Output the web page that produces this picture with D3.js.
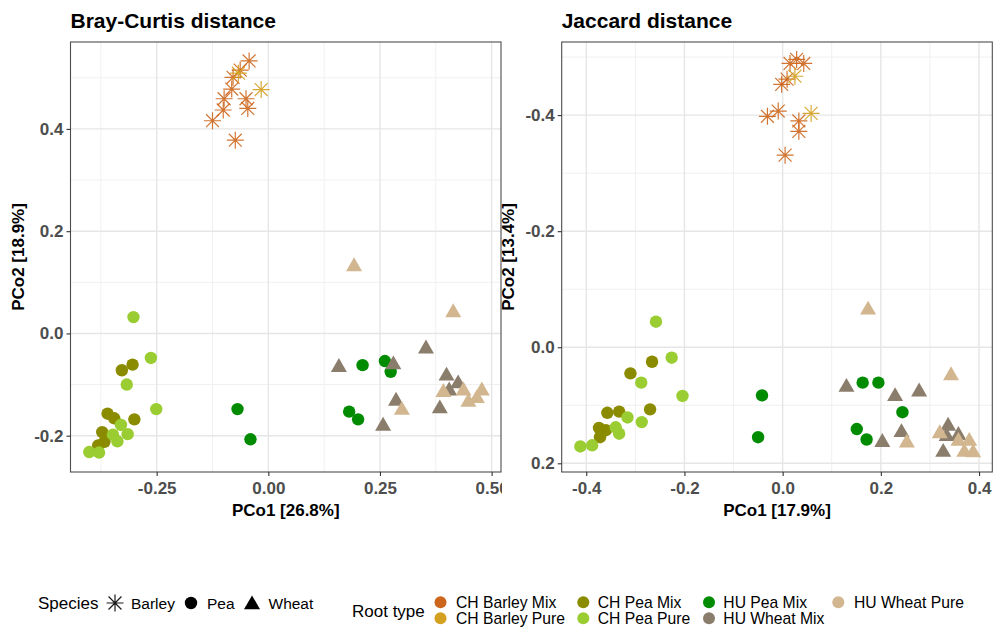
<!DOCTYPE html>
<html>
<head>
<meta charset="utf-8">
<script src="https://cdn.jsdelivr.net/npm/d3@7/dist/d3.min.js"></script>
<style>
  html, body { margin: 0; padding: 0; background: #fff; }
  svg { display: block; font-family: "Liberation Sans", Arial, sans-serif; }
</style>
</head>
<body>
<svg id="chart" width="993" height="628"></svg>
<script>
// ---------------- DATA ----------------
const rootTypes = ["CH Barley Mix", "CH Barley Pure", "CH Pea Mix", "CH Pea Pure", "HU Pea Mix", "HU Wheat Mix", "HU Wheat Pure"];
const rootColors = ["#CD661D", "#D4A020", "#8B8B00", "#9ACD32", "#008B00", "#8B7D6B", "#D2B68F"];
const rootSpecies = ["Barley", "Barley", "Pea", "Pea", "Pea", "Wheat", "Wheat"];
const speciesNames = ["Barley", "Pea", "Wheat"];

// Bray-Curtis PCoA: [PCo1, PCo2]
const bcCHBarleyMix = [[-0.043,0.533],[-0.063,0.515],[-0.079,0.501],[-0.082,0.478],[-0.099,0.459],[-0.050,0.459],[-0.101,0.437],[-0.046,0.440],[-0.125,0.416],[-0.074,0.378]];
const bcCHBarleyPure = [[-0.067,0.509],[-0.016,0.477]];
const bcCHPeaMix = [[-0.328,-0.072],[-0.304,-0.061],[-0.360,-0.157],[-0.345,-0.166],[-0.300,-0.168],[-0.372,-0.193],[-0.367,-0.212],[-0.381,-0.219]];
const bcCHPeaPure = [[-0.302,0.032],[-0.263,-0.048],[-0.317,-0.100],[-0.251,-0.148],[-0.330,-0.179],[-0.315,-0.197],[-0.348,-0.198],[-0.338,-0.211],[-0.401,-0.232],[-0.379,-0.233]];
const bcHUPeaMix = [[0.211,-0.062],[0.261,-0.054],[0.274,-0.075],[0.181,-0.153],[0.201,-0.168],[-0.069,-0.148],[-0.040,-0.207]];
const bcHUWheatMix = [[0.158,-0.063],[0.280,-0.058],[0.353,-0.027],[0.399,-0.080],[0.425,-0.095],[0.405,-0.109],[0.286,-0.129],[0.384,-0.144],[0.257,-0.178]];
const bcHUWheatPure = [[0.192,0.134],[0.414,0.044],[0.392,-0.112],[0.437,-0.109],[0.478,-0.109],[0.448,-0.131],[0.467,-0.124],[0.299,-0.147]];

// Jaccard PCoA: [PCo1, PCo2]
const jcCHBarleyMix = [[0.0285,-0.496],[0.015,-0.489],[0.043,-0.489],[0.009,-0.462],[-0.002,-0.453],[-0.009,-0.407],[-0.031,-0.398],[0.033,-0.390],[0.033,-0.372],[0.005,-0.331]];
const jcCHBarleyPure = [[0.025,-0.467],[0.058,-0.403]];
const jcCHPeaMix = [[-0.266,0.025],[-0.310,0.045],[-0.270,0.107],[-0.357,0.113],[-0.333,0.111],[-0.374,0.139],[-0.360,0.143],[-0.372,0.155]];
const jcCHPeaPure = [[-0.258,-0.044],[-0.226,0.018],[-0.288,0.061],[-0.204,0.084],[-0.316,0.121],[-0.287,0.129],[-0.340,0.138],[-0.333,0.149],[-0.412,0.171],[-0.388,0.169]];
const jcHUPeaMix = [[0.163,0.061],[0.195,0.061],[0.244,0.112],[0.151,0.141],[0.171,0.159],[-0.042,0.083],[-0.050,0.155]];
const jcHUWheatMix = [[0.130,0.066],[0.278,0.074],[0.229,0.082],[0.242,0.144],[0.203,0.161],[0.337,0.133],[0.358,0.149],[0.334,0.151],[0.327,0.178]];
const jcHUWheatPure = [[0.174,-0.067],[0.343,0.046],[0.320,0.146],[0.253,0.162],[0.358,0.159],[0.380,0.159],[0.370,0.178],[0.388,0.179]];

const bcXTicks = [-0.25, 0, 0.25, 0.5];
const bcXTickLabels = ["-0.25", "0.00", "0.25", "0.50"];
const bcYTicks = [-0.2, 0, 0.2, 0.4];
const bcYTickLabels = ["-0.2", "0.0", "0.2", "0.4"];
const jcXTicks = [-0.4, -0.2, 0, 0.2, 0.4];
const jcXTickLabels = ["-0.4", "-0.2", "0.0", "0.2", "0.4"];
const jcYTicks = [-0.4, -0.2, 0, 0.2];
const jcYTickLabels = ["-0.4", "-0.2", "0.0", "0.2"];

// ---------------- DRAW ----------------
const svg = d3.select("#chart");
const FONT = "'Liberation Sans', Arial, sans-serif";

function asteriskPath(r) {
  const d = r * 0.76;
  return `M${-r},0L${r},0M0,${-r}L0,${r}M${-d},${-d}L${d},${d}M${-d},${d}L${d},${-d}`;
}
function trianglePath(s) {
  const h = s * Math.sqrt(3) / 2;
  return `M0,${-h * 0.55}L${s / 2},${h * 0.45}L${-s / 2},${h * 0.45}Z`;
}

function drawPoint(g, x, y, species, color) {
  if (species === "Barley") {
    g.append("path").attr("d", asteriskPath(8.5))
      .attr("transform", `translate(${x},${y})`)
      .attr("stroke", color).attr("stroke-width", 1.2).attr("fill", "none")
      .attr("stroke-opacity", 0.9);
  } else if (species === "Pea") {
    g.append("circle").attr("cx", x).attr("cy", y).attr("r", 6.2).attr("fill", color);
  } else {
    g.append("path").attr("d", trianglePath(16))
      .attr("transform", `translate(${x},${y})`).attr("fill", color);
  }
}

function panel(cfg) {
  const g = svg.append("g");
  if (cfg.clipRight) {
    svg.append("clipPath").attr("id", cfg.id + "clip")
      .append("rect").attr("x", 0).attr("y", 0).attr("width", cfg.clipRight).attr("height", 628);
    g.attr("clip-path", `url(#${cfg.id}clip)`);
  }
  const x = d3.scaleLinear().domain(cfg.xDomain).range([cfg.left, cfg.right]);
  const y = d3.scaleLinear().domain(cfg.yDomain).range([cfg.bottom, cfg.top]);

  g.append("rect").attr("x", cfg.left).attr("y", cfg.top)
    .attr("width", cfg.right - cfg.left).attr("height", cfg.bottom - cfg.top).attr("fill", "#fff");

  const grid = g.append("g");
  cfg.xMinor.forEach(v => grid.append("line").attr("x1", x(v)).attr("x2", x(v)).attr("y1", cfg.top).attr("y2", cfg.bottom)
    .attr("stroke", "#F0F0F0").attr("stroke-width", 1));
  cfg.yMinor.forEach(v => grid.append("line").attr("y1", y(v)).attr("y2", y(v)).attr("x1", cfg.left).attr("x2", cfg.right)
    .attr("stroke", "#F0F0F0").attr("stroke-width", 1));
  cfg.xTicks.forEach(v => grid.append("line").attr("x1", x(v)).attr("x2", x(v)).attr("y1", cfg.top).attr("y2", cfg.bottom)
    .attr("stroke", "#E6E6E6").attr("stroke-width", 1.4));
  cfg.yTicks.forEach(v => grid.append("line").attr("y1", y(v)).attr("y2", y(v)).attr("x1", cfg.left).attr("x2", cfg.right)
    .attr("stroke", "#E6E6E6").attr("stroke-width", 1.4));

  const pts = g.append("g");
  cfg.groups.forEach((grp, i) => {
    grp.forEach(p => drawPoint(pts, x(p[0]), y(p[1]), rootSpecies[i], rootColors[i]));
  });

  g.append("rect").attr("x", cfg.left).attr("y", cfg.top)
    .attr("width", cfg.right - cfg.left).attr("height", cfg.bottom - cfg.top)
    .attr("fill", "none").attr("stroke", "#4D4D4D").attr("stroke-width", 1.1);

  const xAxis = d3.axisBottom(x).tickValues(cfg.xTicks)
    .tickFormat((d, i) => cfg.xTickLabels[i]).tickSize(4).tickPadding(3);
  const xa = g.append("g").attr("transform", `translate(0,${cfg.bottom})`).call(xAxis);
  const yAxis = d3.axisLeft(y).tickValues(cfg.yTicks)
    .tickFormat((d, i) => cfg.yTickLabels[i]).tickSize(4).tickPadding(3);
  const ya = g.append("g").attr("transform", `translate(${cfg.left},0)`).call(yAxis);
  [xa, ya].forEach(a => {
    a.select(".domain").remove();
    a.selectAll(".tick line").attr("stroke", "#333").attr("stroke-width", 1.1);
    a.selectAll(".tick text").attr("fill", "#4D4D4D").attr("font-size", "17px")
      .attr("font-weight", "bold").attr("font-family", FONT);
  });
  xa.selectAll(".tick text").attr("dy", "0.9em");

  g.append("text").attr("x", cfg.left).attr("y", 28).text(cfg.title)
    .attr("font-size", "21px").attr("font-weight", "bold").attr("font-family", FONT).attr("fill", "#000");
  g.append("text").attr("x", (cfg.left + cfg.right) / 2).attr("y", 516).attr("text-anchor", "middle")
    .text(cfg.xTitle).attr("font-size", "17px").attr("font-weight", "bold").attr("font-family", FONT).attr("fill", "#000");
  g.append("text").attr("transform", `translate(${cfg.yTitleX},${(cfg.top + cfg.bottom) / 2}) rotate(-90)`)
    .attr("text-anchor", "middle").text(cfg.yTitle)
    .attr("font-size", "17px").attr("font-weight", "bold").attr("font-family", FONT).attr("fill", "#000");
}

panel({
  id: "bc", left: 70.5, right: 501, top: 42, bottom: 472, clipRight: 502,
  xDomain: [-0.443, 0.521], yDomain: [-0.271, 0.570],
  xTicks: bcXTicks, xTickLabels: bcXTickLabels, yTicks: bcYTicks, yTickLabels: bcYTickLabels,
  xMinor: [-0.375, -0.125, 0.125, 0.375], yMinor: [-0.1, 0.1, 0.3, 0.5],
  groups: [bcCHBarleyMix, bcCHBarleyPure, bcCHPeaMix, bcCHPeaPure, bcHUPeaMix, bcHUWheatMix, bcHUWheatPure],
  title: "Bray-Curtis distance", xTitle: "PCo1 [26.8%]", yTitle: "PCo2 [18.9%]", yTitleX: 24
});

panel({
  id: "jc", left: 561.7, right: 992.3, top: 42, bottom: 472,
  xDomain: [-0.450, 0.427], yDomain: [0.215, -0.526],
  xTicks: jcXTicks, xTickLabels: jcXTickLabels, yTicks: jcYTicks, yTickLabels: jcYTickLabels,
  xMinor: [-0.3, -0.1, 0.1, 0.3], yMinor: [-0.5, -0.3, -0.1, 0.1],
  groups: [jcCHBarleyMix, jcCHBarleyPure, jcCHPeaMix, jcCHPeaPure, jcHUPeaMix, jcHUWheatMix, jcHUWheatPure],
  title: "Jaccard distance", xTitle: "PCo1 [17.9%]", yTitle: "PCo2 [13.4%]", yTitleX: 514
});

// ---------------- LEGENDS ----------------
const leg = svg.append("g").attr("font-family", FONT);
leg.append("text").attr("x", 38).attr("y", 609).text("Species").attr("font-size", "17px").attr("fill", "#000");
const spX = [115, 191, 252];
const spLX = [131, 207, 268.5];
speciesNames.forEach((s, i) => {
  drawPoint(leg, spX[i], 603, s, "#000");
  leg.append("text").attr("x", spLX[i]).attr("y", 608.5).text(s).attr("font-size", "15.5px").attr("fill", "#000");
});
leg.append("text").attr("x", 352).attr("y", 617).text("Root type").attr("font-size", "17px").attr("fill", "#000");
const colDotX = [440.5, 583.3, 709, 838.3];
const colTextX = [456, 597.7, 723.3, 854];
const rowY = [602.3, 618.3];
rootTypes.forEach((r, i) => {
  const c = Math.floor(i / 2), rr = i % 2;
  leg.append("circle").attr("cx", colDotX[c]).attr("cy", rowY[rr]).attr("r", 6).attr("fill", rootColors[i]);
  leg.append("text").attr("x", colTextX[c]).attr("y", rowY[rr] + 5.6).text(r).attr("font-size", "15.7px").attr("fill", "#000");
});
</script>
</body>
</html>
